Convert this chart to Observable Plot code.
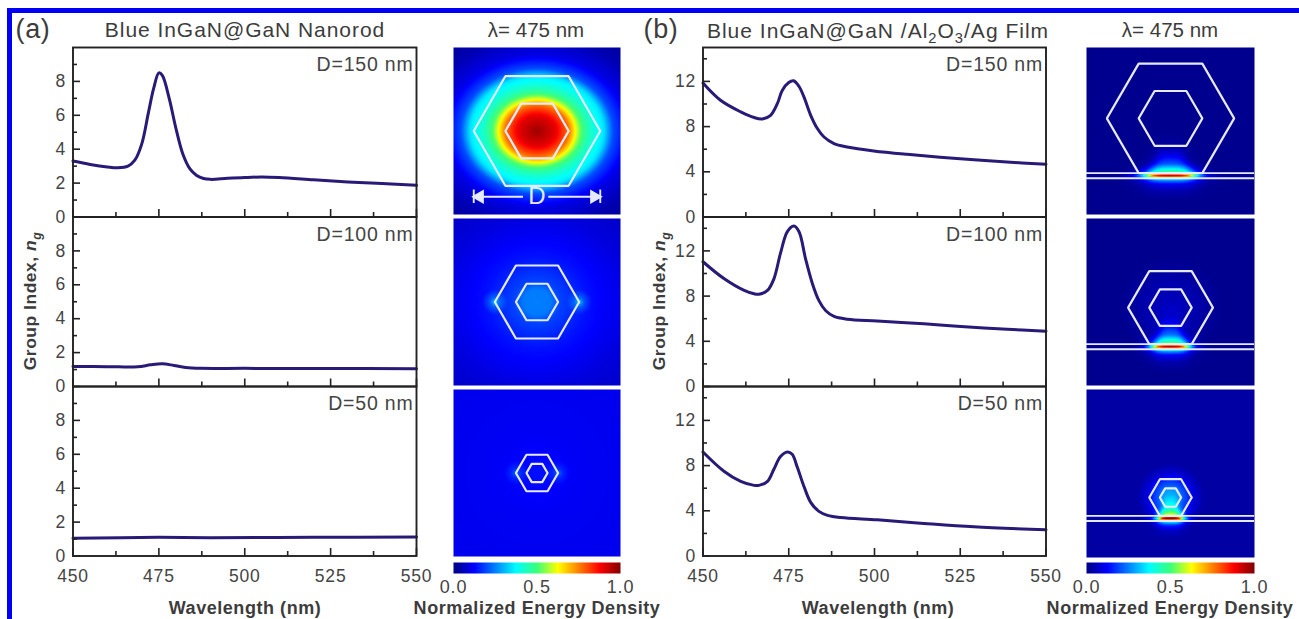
<!DOCTYPE html>
<html><head><meta charset="utf-8">
<script src="https://cdn.jsdelivr.net/npm/d3@7"></script>
<script src="https://cdn.jsdelivr.net/npm/@observablehq/plot@0.6"></script>
<style>
html,body{margin:0;padding:0;background:#fff}
#page{position:relative;width:1299px;height:619px;overflow:hidden;background:#fff;font-family:"Liberation Sans",Arial,sans-serif}
#page>svg,#page>div{position:absolute}
.frame{left:7px;top:8px;width:1287px;height:640px;border:5px solid #0000f5}
.t{color:#3c3c3c;white-space:nowrap;line-height:1;transform:translate(-50%,-50%)}
.b{font-weight:700;font-size:18px;letter-spacing:.55px}
.gy{font-size:17.4px}
sub{font-size:70%;line-height:0}
</style></head><body><div id="page"></div>
<script>
// ---------- curve data (wavelength nm, group index)
const a150wl=[450,455,460,463,466,468,470,472,473.5,475,476,478,480,482,484,486,488,490,495,500,505,510,520,530,540,550];
const a150ng=[3.3,3.1,2.95,2.9,3.0,3.35,4.3,6.2,7.6,8.5,8.35,7.0,5.2,3.7,2.85,2.45,2.27,2.22,2.28,2.33,2.36,2.33,2.2,2.07,1.97,1.87];
const a100wl=[450,460,468.8,472.6,476,479.4,482.8,487.2,500,525,550];
const a100ng=[1.18,1.17,1.16,1.28,1.34,1.24,1.12,1.07,1.07,1.06,1.05];
const a50wl=[450,475,490,520,550];
const a50ng=[1.05,1.1,1.08,1.1,1.12];
const b150wl=[450,455,461,464.9,467.3,469.7,471.7,473.1,475,476.4,478,479.4,481.4,483.3,485.2,488.2,492,499.8,509.5,524,538.6,550];
const b150ng=[11.85,10.35,9.3,8.8,8.68,9.0,10.05,11.2,11.9,12.05,11.55,10.65,9.0,7.85,7.1,6.5,6.2,5.85,5.55,5.18,4.87,4.67];
const b100wl=[450,456.1,462,464.9,466.3,468.8,470.7,472.6,474.6,476.5,478,479.9,481.9,483.8,485.8,488.2,492.1,500.8,514.4,524.1,538.7,550];
const b100ng=[11.04,9.55,8.5,8.2,8.16,8.5,9.55,11.8,13.7,14.2,13.7,11.3,9.1,7.6,6.7,6.2,5.96,5.8,5.55,5.33,5.07,4.9];
const b50wl=[450,456.1,461,464.9,466.3,468.8,470.7,472.6,474.6,476,477.5,479.5,481.4,483.8,486.3,490.2,500.8,514.4,529,550];
const b50ng=[9.2,7.5,6.6,6.25,6.25,6.6,7.7,8.8,9.2,9.0,7.85,6.1,4.75,3.95,3.6,3.4,3.2,2.88,2.58,2.32];

// ---------- axis ticks
const xMajor=[450,475,500,525,550];
const xMinor=[462.5,487.5,512.5,537.5];
const aMajor=[0,2,4,6,8];
const aMinor=[1,3,5,7,9];
const bMajor=[0,4,8,12];
const bMinor=[2,6,10,14];

// ---------- colour bar stops
const barStops=[0,.125,.375,.5,.625,.875,1];
const barColors=["#00007f","#0000ff","#00ffff","#3cff7a","#ffff00","#ff0000","#7f0000"];
const barTicks=[0,.5,1];

// ---------- energy density profiles (distance in nm, normalised density)
const a150rho=[0,18,31,37,42.5,50,58,65,74,90,99,112,130];
const a150e  =[.97,.9,.76,.63,.52,.44,.39,.35,.2,.1,.08,.05,.03];
const a100rho=[0,15,20,25,40,55,80,100,130];
const a100e  =[.25,.245,.22,.19,.165,.14,.115,.095,.075];
const a50rho =[0,10,25,50,130];
const a50e   =[.14,.135,.125,.115,.108];
const glowDist=[0,6,15];
const glowE  =[.16,.06,0];
const spotX  =[0,12,20,27,35,45,59,72];
const spotXe =[1,.97,.85,.6,.3,.1,.02,0];
const spotY  =[-30,-18,-10,-5,-2,0,2,5,9.5,14,24,35,50];
const spotYe =[0,.03,.1,.28,.6,1,.7,.45,.32,.2,.09,.02,0];
const b50rho =[0,10,14,20,28,40];
const b50e   =[.27,.25,.2,.16,.07,.02];
const b100rho=[0,30,60];
const b100e  =[.05,.03,0];

// ---------- structure of each map
const diameters=[150,100,50];
const filmLines=[-50,-56];
const extent=99;

const page=document.getElementById("page");
const font={fontFamily:"'Liberation Sans',Arial,sans-serif",background:"transparent",overflow:"visible"};
const lookup=(xs,vs)=>d3.scaleLinear().domain(xs).range(vs).clamp(true);
function place(el,left,top){el.style.left=left+"px";el.style.top=top+"px";page.appendChild(el);}
function html(cls,x,y,content,extra=""){const d=document.createElement("div");d.className=cls;d.innerHTML=content;
  d.style.cssText=`left:${x}px;top:${y}px;${extra}`;page.appendChild(d);}

function linePlot(wl,ng,yMax,major,minor,label,frameL,frameR,frameT,frameB,last){
  const data=wl.map((w,i)=>({w,n:ng[i]}));
  const left=Math.floor(frameL)-50, top=Math.floor(frameT)-10;
  const tickC="#222";
  const p=Plot.plot({
    width:frameR-left+20,height:frameB-top+(last?64:14),
    marginLeft:frameL-left,marginRight:20,marginTop:frameT-top,marginBottom:last?64:14,
    style:{...font},
    x:{domain:[450,550],axis:null},y:{domain:[0,yMax],axis:null},
    marks:[
      Plot.line(data,{x:"w",y:"n",curve:"catmull-rom",stroke:"#2a1a78",strokeWidth:3}),
      Plot.axisY(major,{anchor:"left",tickSize:-7.5,fill:"none",stroke:tickC,strokeWidth:1.6,label:null}),
      Plot.axisY(minor,{anchor:"left",tickSize:-4.5,fill:"none",stroke:tickC,strokeWidth:1.6,label:null}),
      Plot.axisY(major,{anchor:"left",tickSize:0,tickPadding:7,fontSize:17.5,fill:"#444",label:null}),
      Plot.axisX(xMajor,{anchor:"bottom",tickSize:-7.5,fill:"none",stroke:tickC,strokeWidth:1.6,label:null}),
      Plot.axisX(xMinor,{anchor:"bottom",tickSize:-4.5,fill:"none",stroke:tickC,strokeWidth:1.6,label:null}),
      last?Plot.axisX(xMajor,{anchor:"bottom",tickSize:0,tickPadding:14,fontSize:17.5,fill:"#444",label:null}):null,
      Plot.text([label],{frameAnchor:"top-right",dx:-3,dy:10,lineAnchor:"top",fontSize:19.5,fill:"#444"}),
      Plot.frame({stroke:tickC,strokeWidth:1.9}),
    ]});
  p.querySelectorAll("text").forEach(t=>t.style.letterSpacing="0.8px");
  place(p,left,top);
}

function hexagon(cx,cy,d){
  return d3.range(7).map(i=>({x:cx+d/2*Math.cos(i*Math.PI/3),y:cy+d/2*Math.sin(i*Math.PI/3)}));
}

function mapPlot(field,D,cy,film,frameL,frameR,frameT,frameB,dim){
  const lineC="#e6eaff";
  const p=Plot.plot({
    width:frameR-frameL,height:frameB-frameT,margin:0,style:{...font},
    x:{domain:[-extent,extent],axis:null},y:{domain:[-extent,extent],axis:null},
    color:{type:"linear",domain:barStops,range:barColors,interpolate:"rgb"},
    marks:[
      Plot.raster({x1:-extent,x2:extent,y1:-extent,y2:extent,fill:field,pixelSize:1}),
      film?Plot.ruleY(filmLines,{stroke:lineC,strokeWidth:1.9}):null,
      Plot.line(hexagon(0,cy,D),{x:"x",y:"y",stroke:lineC,strokeWidth:2.2,strokeLinejoin:"miter"}),
      Plot.line(hexagon(0,cy,D/2),{x:"x",y:"y",stroke:lineC,strokeWidth:2.2,strokeLinejoin:"miter"}),
      ...(dim?[
        Plot.ruleY([{x1:-D/2,x2:-16},{x1:14,x2:D/2}],{x1:"x1",x2:"x2",y:()=>-78,stroke:lineC,strokeWidth:1.9}),
        Plot.ruleX([-D/2,D/2],{y1:-86,y2:-70,stroke:lineC,strokeWidth:1.9}),
        Plot.dot([{x:-D/2+7,r:-90},{x:D/2-7,r:90}],{x:"x",y:()=>-78,symbol:"triangle",r:5.4,rotate:"r",fill:lineC}),
        Plot.text(["D"],{x:0,y:-78,fill:lineC,fontSize:24})
      ]:[])
    ]});
  place(p,frameL,frameT);
}

function colorBar(frameL,frameR){
  const p=Plot.plot({
    width:frameR-frameL+60,height:60,marginLeft:30,marginRight:30,marginTop:0,marginBottom:49,
    style:{...font},
    x:{domain:[0,1],axis:null},y:{domain:[0,1],axis:null},
    color:{type:"linear",domain:barStops,range:barColors,interpolate:"rgb"},
    marks:[
      Plot.raster({x1:0,x2:1,y1:0,y2:1,fill:(x,y)=>x,pixelSize:1}),
      Plot.axisX(barTicks,{anchor:"bottom",tickSize:0,tickPadding:7,fontSize:18,fill:"#444",label:null,tickFormat:".1f"})
    ]});
  p.querySelectorAll("text").forEach(t=>t.style.letterSpacing="0.8px");
  place(p,frameL-30,562);
}

// ---- fields
const pa150=lookup(a150rho,a150e),pa100=lookup(a100rho,a100e),pa50=lookup(a50rho,a50e),pGlow=lookup(glowDist,glowE);
const fa150=(x,y)=>pa150(Math.hypot(x/1.22,y));
const fa100=(x,y)=>pa100(Math.hypot(x/1.08,y))+pGlow(Math.hypot(Math.abs(x)-50,y));
const fa50=(x,y)=>pa50(Math.hypot(x,y))+.6*pGlow(Math.hypot(Math.abs(x)-25,y));
const sx=lookup(spotX,spotXe),sy=lookup(spotY,spotYe);
const dome=h=>1-.45*Math.min(Math.max(h,0)/20,1);
const spot=(x,y,kx,ky)=>{const h=(y+53)/ky;return sx(Math.abs(x)/(kx*dome(h)))*sy(h);};
const bg=.015;
const centre=D=>-50+D/2*Math.sqrt(3)/2;
const pb50=lookup(b50rho,b50e),pb100=lookup(b100rho,b100e);
const fb150=(x,y)=>Math.min(1,bg+spot(x,y,1,1));
const fb100=(x,y)=>Math.min(1,bg+spot(x,y,.72,1)+pb100(Math.hypot(x,y-centre(100))));
const fb50=(x,y)=>Math.min(1,bg+spot(x,y,.5,.8)+pb50(Math.hypot(x,y-centre(50))));

// ---- left block (a)
const ay=[[47,216.5],[216.5,386],[386,555.5]];
linePlot(a150wl,a150ng,10,aMajor,aMinor,"D=150 nm",72.5,416,...ay[0],false);
linePlot(a100wl,a100ng,10,aMajor,aMinor,"D=100 nm",72.5,416,...ay[1],false);
linePlot(a50wl,a50ng,10,aMajor,aMinor,"D=50 nm",72.5,416,...ay[2],true);
// ---- right block (b)
linePlot(b150wl,b150ng,15,bMajor,bMinor,"D=150 nm",702.5,1045.5,...ay[0],false);
linePlot(b100wl,b100ng,15,bMajor,bMinor,"D=100 nm",702.5,1045.5,...ay[1],false);
linePlot(b50wl,b50ng,15,bMajor,bMinor,"D=50 nm",702.5,1045.5,...ay[2],true);
// ---- maps
const my=[[47,214],[218,385],[389,556]];
const myb=[[47,214],[218,385],[389,557]];
mapPlot(fa150,diameters[0],0,false,453,620,...my[0],true);
mapPlot(fa100,diameters[1],0,false,453,620,...my[1],false);
mapPlot(fa50,diameters[2],0,false,453,620,...my[2],false);
mapPlot(fb150,diameters[0],centre(150),true,1086,1254,...myb[0],false);
mapPlot(fb100,diameters[1],centre(100),true,1086,1254,...myb[1],false);
mapPlot(fb50,diameters[2],centre(50),true,1086,1254,...myb[2],false);
colorBar(453,620);
colorBar(1086,1254);

// ---- blue outer border and titles
const fr=document.createElement("div");fr.className="frame";page.appendChild(fr);
html("t",33,29,"(a)","font-size:27px;letter-spacing:.6px");
html("t",245,29,"Blue InGaN@GaN Nanorod","font-size:21px;letter-spacing:.95px");
html("t",536,30,"λ= 475 nm","font-size:20.5px");
html("t",661,29,"(b)","font-size:27px;letter-spacing:.6px");
html("t",878,30,"Blue InGaN@GaN /Al<sub>2</sub>O<sub>3</sub>/Ag Film","font-size:21px;letter-spacing:1px");
html("t",1170,30,"λ= 475 nm","font-size:20.5px");
html("t b gy",31,301,"Group Index, <i>n</i><sub><i>g</i></sub>","transform:translate(-50%,-50%) rotate(-90deg)");
html("t b gy",660,301,"Group Index, <i>n</i><sub><i>g</i></sub>","transform:translate(-50%,-50%) rotate(-90deg)");
html("t b",245,608,"Wavelength (nm)");
html("t b",878,608,"Wavelength (nm)");
html("t b",537,608,"Normalized Energy Density");
html("t b",1170,608,"Normalized Energy Density");
</script></body></html>
